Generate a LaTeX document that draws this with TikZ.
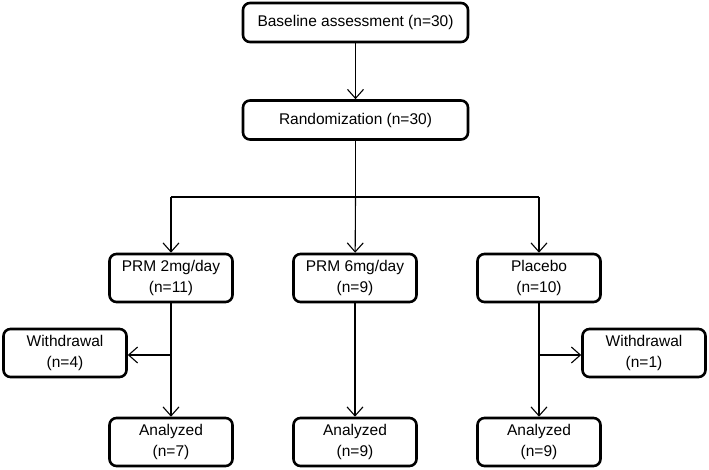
\documentclass[tikz,border=0pt]{standalone}
\usepackage{fontspec}
\setmainfont{Liberation Sans}
\usetikzlibrary{arrows.meta}
\begin{document}
\begin{tikzpicture}[x=1pt,y=-1pt,
  box/.style={draw, line width=2.6pt, rounded corners=7pt, align=center,
    font=\fontsize{15.5}{21}\selectfont, inner sep=0pt},
  wide/.style={box, minimum width=225pt, minimum height=39pt},
  arm/.style={box, minimum width=123pt, minimum height=48pt},
  conn/.style={line width=1.1pt},
  arr/.style={conn, -{Straight Barb[length=9pt, width=16pt, line width=1.1pt]}}]
\useasboundingbox (0,0) rectangle (709,470);
\node[wide] (base) at (355.5,22.5) {Baseline assessment (n=30)};
\node[wide] (rand) at (355.5,120) {Randomization (n=30)};
\node[arm] (prm2) at (171,278) {PRM 2mg/day\\(n=11)};
\node[arm] (prm6) at (355,278) {PRM 6mg/day\\(n=9)};
\node[arm] (plac) at (539,278) {Placebo\\(n=10)};
\node[arm] (wl) at (65,353) {Withdrawal\\(n=4)};
\node[arm] (wr) at (644,353) {Withdrawal\\(n=1)};
\node[arm] (a1) at (171,442) {Analyzed\\(n=7)};
\node[arm] (a2) at (355,442) {Analyzed\\(n=9)};
\node[arm] (a3) at (539,442) {Analyzed\\(n=9)};
\coordinate (br) at (355.5,197);
\coordinate (bl) at (171,197);
\coordinate (bri) at (539,197);
\coordinate (jl) at (171,355);
\coordinate (jr) at (539,355);
\draw[arr] (base) -- (rand);
\draw[conn] (rand) -- (br);
\draw[conn] (bl) -- (bri);
\draw[arr] (bl) -- (prm2);
\draw[arr] (br) -- (prm6);
\draw[arr] (bri) -- (plac);
\draw[arr] (prm2) -- (a1);
\draw[arr] (prm6) -- (a2);
\draw[arr] (plac) -- (a3);
\draw[arr] (jl) -- (jl -| wl.east);
\draw[arr] (jr) -- (jr -| wr.west);
\end{tikzpicture}
\end{document}
